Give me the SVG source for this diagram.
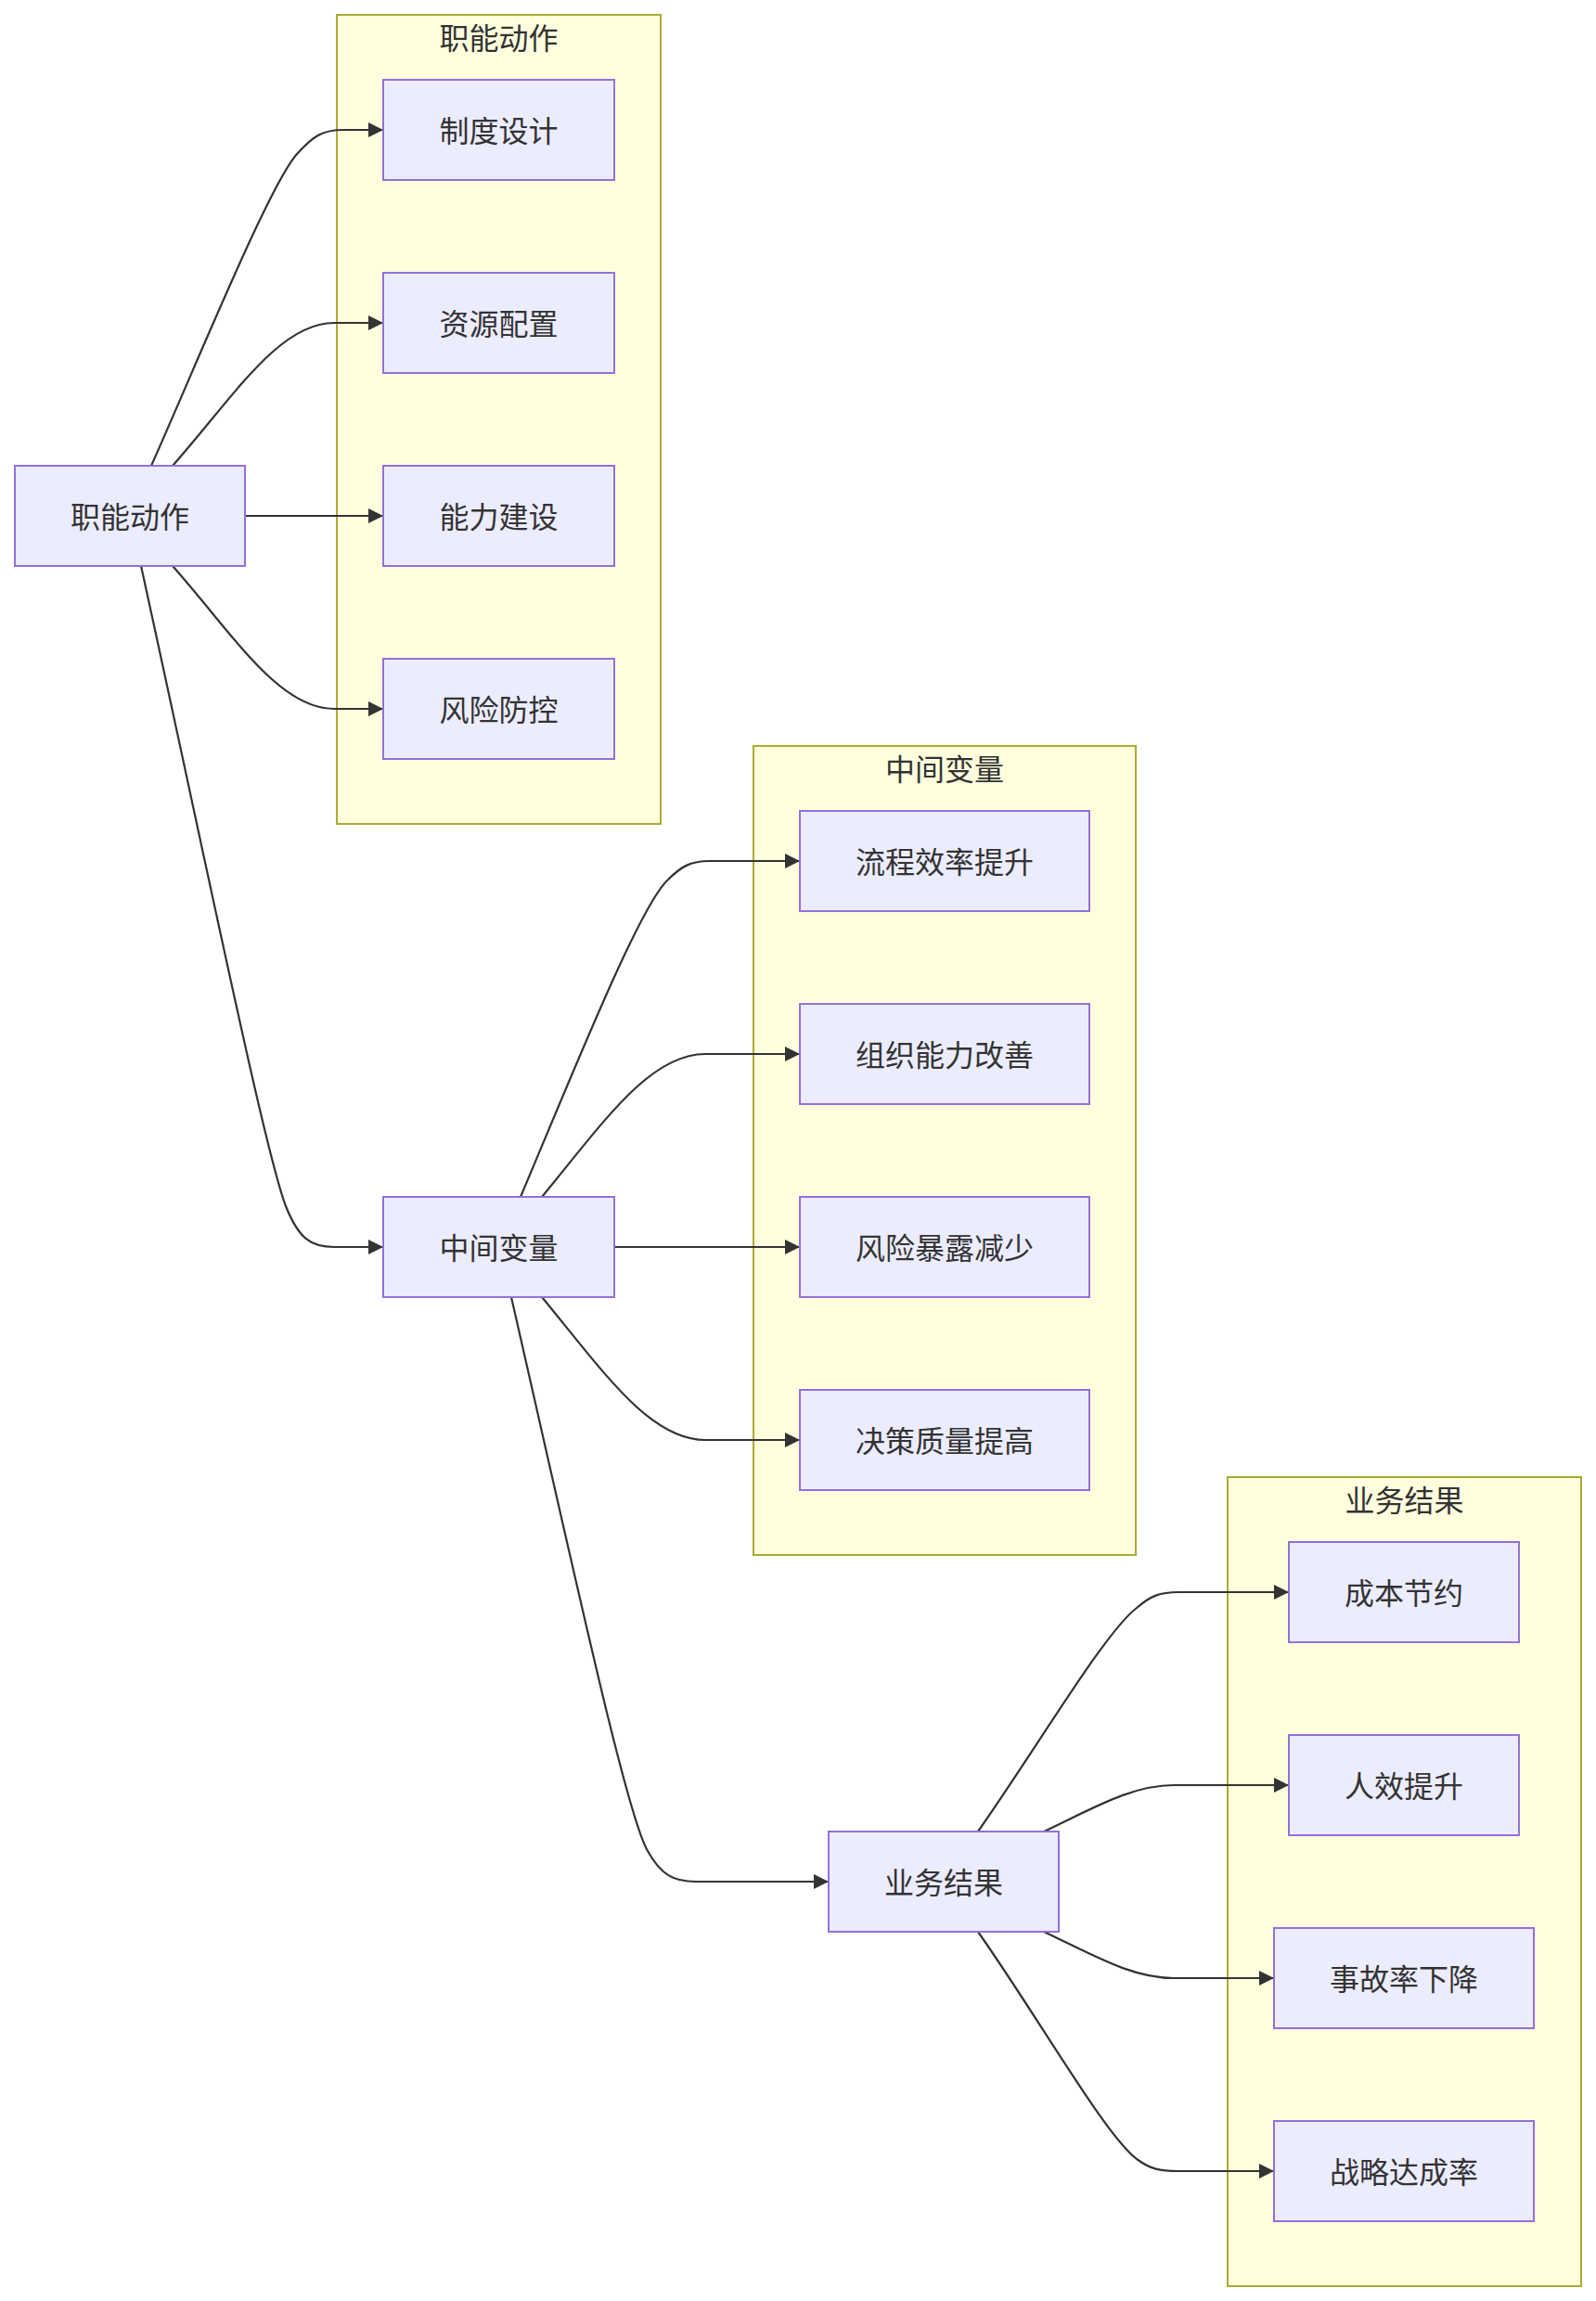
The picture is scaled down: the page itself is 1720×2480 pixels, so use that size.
<svg xmlns="http://www.w3.org/2000/svg" width="1720" height="2480" viewBox="0 0 1720 2480">
<defs>
<marker id="arrow" viewBox="0 0 10 10" refX="10" refY="5" markerUnits="userSpaceOnUse" markerWidth="16" markerHeight="16" orient="auto">
<path d="M0,0 L10,5 L0,10 z" fill="#333333"/>
</marker>
</defs>
<style>
.cluster rect{fill:#ffffde;stroke:#aaaa33;stroke-width:2}
.node rect{fill:#ececff;stroke:#9370db;stroke-width:2}
text{font-family:"Noto Sans CJK SC","Noto Sans",sans-serif;font-size:32px;fill:#333333;text-anchor:middle;dominant-baseline:central}
.edges path{fill:none;stroke:#333333;stroke-width:2.2;marker-end:url(#arrow)}
</style>
<rect width="1720" height="2480" fill="#ffffff"/>
<g id="cluster-func" class="cluster"><rect x="363" y="16" width="349" height="872"/><text x="537.5" y="38.5">职能动作</text></g>
<g id="cluster-mid" class="cluster"><rect x="812" y="804" width="412" height="872"/><text x="1018" y="826.5">中间变量</text></g>
<g id="cluster-biz" class="cluster"><rect x="1323" y="1592" width="381" height="872"/><text x="1513.5" y="1614.5">业务结果</text></g>

<g class="edges" id="connectors">
<path d="M163,502 C215,385 290,200 320,166 C338,146 348,140 370,140 L413,140"/>
<path d="M186,502 C250,430 300,348 360,348 L413,348"/>
<path d="M264,556 L413,556"/>
<path d="M186,610 C250,682 300,764 360,764 L413,764"/>
<path d="M152,610 C220,920 285,1240 308,1300 C322,1335 335,1344 360,1344 L413,1344"/>
<path d="M561,1290 C620,1150 690,975 720,948 C735,933 745,928 765,928 L862,928"/>
<path d="M584,1290 C650,1210 700,1136 760,1136 L862,1136"/>
<path d="M662,1344 L862,1344"/>
<path d="M584,1398 C650,1478 700,1552 760,1552 L862,1552"/>
<path d="M551,1398 C620,1700 675,1955 698,1995 C712,2020 725,2028 750,2028 L893,2028"/>
<path d="M1054,1974 C1120,1880 1190,1760 1225,1733 C1240,1720 1250,1716 1270,1716 L1389,1716"/>
<path d="M1125,1974 C1180,1948 1220,1924 1265,1924 L1389,1924"/>
<path d="M1125,2082 C1180,2108 1220,2132 1265,2132 L1373,2132"/>
<path d="M1054,2082 C1120,2176 1190,2300 1225,2327 C1240,2338 1250,2340 1270,2340 L1373,2340"/>
</g>

<g id="n-func" class="node"><rect x="16" y="502" width="248" height="108"/><text x="140" y="554.5">职能动作</text></g>
<g id="n-f1" class="node"><rect x="413" y="86" width="249" height="108"/><text x="537.5" y="138.5">制度设计</text></g>
<g id="n-f2" class="node"><rect x="413" y="294" width="249" height="108"/><text x="537.5" y="346.5">资源配置</text></g>
<g id="n-f3" class="node"><rect x="413" y="502" width="249" height="108"/><text x="537.5" y="554.5">能力建设</text></g>
<g id="n-f4" class="node"><rect x="413" y="710" width="249" height="108"/><text x="537.5" y="762.5">风险防控</text></g>

<g id="n-mid" class="node"><rect x="413" y="1290" width="249" height="108"/><text x="537.5" y="1342.5">中间变量</text></g>
<g id="n-m1" class="node"><rect x="862" y="874" width="312" height="108"/><text x="1018" y="926.5">流程效率提升</text></g>
<g id="n-m2" class="node"><rect x="862" y="1082" width="312" height="108"/><text x="1018" y="1134.5">组织能力改善</text></g>
<g id="n-m3" class="node"><rect x="862" y="1290" width="312" height="108"/><text x="1018" y="1342.5">风险暴露减少</text></g>
<g id="n-m4" class="node"><rect x="862" y="1498" width="312" height="108"/><text x="1018" y="1550.5">决策质量提高</text></g>

<g id="n-biz" class="node"><rect x="893" y="1974" width="248" height="108"/><text x="1017" y="2026.5">业务结果</text></g>
<g id="n-b1" class="node"><rect x="1389" y="1662" width="248" height="108"/><text x="1513" y="1714.5">成本节约</text></g>
<g id="n-b2" class="node"><rect x="1389" y="1870" width="248" height="108"/><text x="1513" y="1922.5">人效提升</text></g>
<g id="n-b3" class="node"><rect x="1373" y="2078" width="280" height="108"/><text x="1513" y="2130.5">事故率下降</text></g>
<g id="n-b4" class="node"><rect x="1373" y="2286" width="280" height="108"/><text x="1513" y="2338.5">战略达成率</text></g>
</svg>
